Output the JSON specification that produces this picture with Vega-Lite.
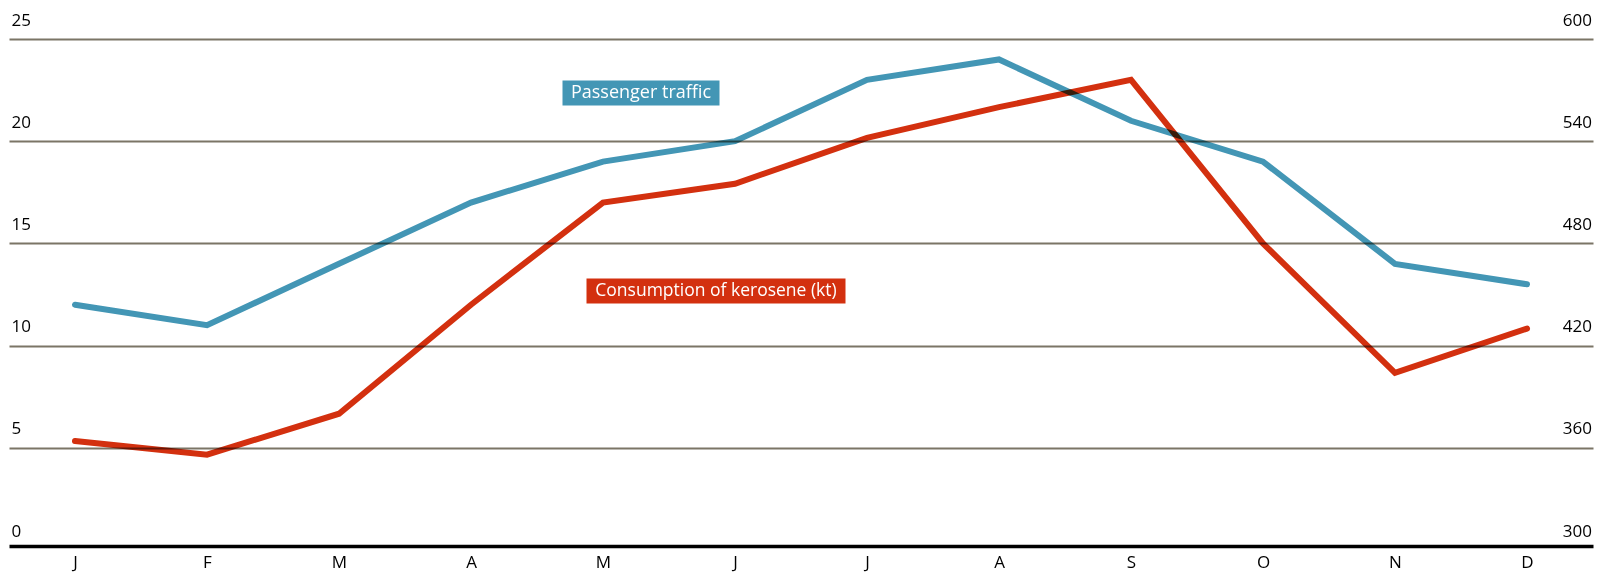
{
  "$schema": "https://vega.github.io/schema/vega-lite/v6.json",
  "width": 1584,
  "height": 511,
  "autosize": {"type": "none"},
  "padding": {"left": 9, "top": 39, "right": 17, "bottom": 22},
  "background": "white",
  "config": {
    "view": {"stroke": null},
    "font": "Open Sans, sans-serif",
    "axis": {"labelFont": "Open Sans, sans-serif", "labelColor": "#000000", "labelFontSize": 17, "title": null}
  },
  "datasets": {
    "monthly": [
      {"month": "Jan", "passenger": 12, "kerosene": 364},
      {"month": "Feb", "passenger": 11, "kerosene": 356},
      {"month": "Mar", "passenger": 14, "kerosene": 380},
      {"month": "Apr", "passenger": 17, "kerosene": 444},
      {"month": "May", "passenger": 19, "kerosene": 504},
      {"month": "Jun", "passenger": 20, "kerosene": 515},
      {"month": "Jul", "passenger": 23, "kerosene": 542},
      {"month": "Aug", "passenger": 24, "kerosene": 560},
      {"month": "Sep", "passenger": 21, "kerosene": 576},
      {"month": "Oct", "passenger": 19, "kerosene": 480},
      {"month": "Nov", "passenger": 14, "kerosene": 404},
      {"month": "Dec", "passenger": 13, "kerosene": 430}
    ]
  },
  "resolve": {"scale": {"y": "independent"}},
  "layer": [
    {
      "layer": [
        {
          "data": {"name": "monthly"},
          "mark": {"type": "line", "color": "#4396b5", "strokeWidth": 6, "strokeCap": "round", "blend": "multiply"},
          "encoding": {
            "x": {
              "field": "month", "type": "ordinal",
              "sort": ["Jan","Feb","Mar","Apr","May","Jun","Jul","Aug","Sep","Oct","Nov","Dec"],
              "scale": {"type": "point", "padding": 0.5},
              "axis": {
                "orient": "bottom", "offset": -4, "domain": true, "domainColor": "#000000", "domainWidth": 3.5,
                "ticks": false, "tickSize": 0, "grid": false, "labelPadding": 8, "labelBaseline": "top",
                "labelAngle": 0, "labelExpr": "slice(datum.label, 0, 1)"
              }
            },
            "y": {
              "field": "passenger", "type": "quantitative",
              "scale": {"domain": [0, 25], "nice": false, "zero": false},
              "axis": {
                "orient": "left", "values": [0, 5, 10, 15, 20, 25], "grid": true,
                "gridColor": {"condition": {"test": "datum.value === 0", "value": "transparent"}, "value": "#7b7566"},
                "gridWidth": 2,
                "domain": false, "ticks": false, "tickSize": 0, "labelAlign": "left", "labelPadding": -2,
                "labelBaseline": "alphabetic", "labelOffset": -14
              }
            }
          }
        },
        {
          "data": {"values": [{"label": "Passenger traffic", "month": "May", "pos": 22.36}]},
          "mark": {"type": "rect", "width": 157, "height": 25, "xOffset": 38, "color": "#4396b5"},
          "encoding": {
            "x": {"field": "month", "type": "ordinal", "sort": ["Jan","Feb","Mar","Apr","May","Jun","Jul","Aug","Sep","Oct","Nov","Dec"]},
            "y": {"field": "pos", "type": "quantitative"}
          }
        },
        {
          "data": {"values": [{"label": "Passenger traffic", "month": "May", "pos": 22.36}]},
          "mark": {"type": "text", "dx": 38, "align": "center", "baseline": "middle", "color": "white", "fontSize": 18},
          "encoding": {
            "x": {"field": "month", "type": "ordinal", "sort": ["Jan","Feb","Mar","Apr","May","Jun","Jul","Aug","Sep","Oct","Nov","Dec"]},
            "y": {"field": "pos", "type": "quantitative"},
            "text": {"field": "label"}
          }
        },
        {
          "data": {"values": [{"label": "Consumption of kerosene (kt)", "month": "Jun", "pos": 12.67}]},
          "mark": {"type": "rect", "width": 259, "height": 25, "xOffset": -19, "color": "#d3300f"},
          "encoding": {
            "x": {"field": "month", "type": "ordinal", "sort": ["Jan","Feb","Mar","Apr","May","Jun","Jul","Aug","Sep","Oct","Nov","Dec"]},
            "y": {"field": "pos", "type": "quantitative"}
          }
        },
        {
          "data": {"values": [{"label": "Consumption of kerosene (kt)", "month": "Jun", "pos": 12.67}]},
          "mark": {"type": "text", "dx": -19, "align": "center", "baseline": "middle", "color": "white", "fontSize": 17.5},
          "encoding": {
            "x": {"field": "month", "type": "ordinal", "sort": ["Jan","Feb","Mar","Apr","May","Jun","Jul","Aug","Sep","Oct","Nov","Dec"]},
            "y": {"field": "pos", "type": "quantitative"},
            "text": {"field": "label"}
          }
        }
      ]
    },
    {
      "data": {"name": "monthly"},
      "mark": {"type": "line", "color": "#d3300f", "strokeWidth": 6, "strokeCap": "round", "blend": "multiply"},
      "encoding": {
        "x": {"field": "month", "type": "ordinal", "sort": ["Jan","Feb","Mar","Apr","May","Jun","Jul","Aug","Sep","Oct","Nov","Dec"]},
        "y": {
          "field": "kerosene", "type": "quantitative",
          "scale": {"domain": [300, 600], "nice": false, "zero": false},
          "axis": {
            "orient": "right", "values": [300, 360, 420, 480, 540, 600], "grid": false,
            "domain": false, "ticks": false, "tickSize": 0, "labelAlign": "right", "labelPadding": -1.5,
            "labelBaseline": "alphabetic", "labelOffset": -14
          }
        }
      }
    }
  ]
}
